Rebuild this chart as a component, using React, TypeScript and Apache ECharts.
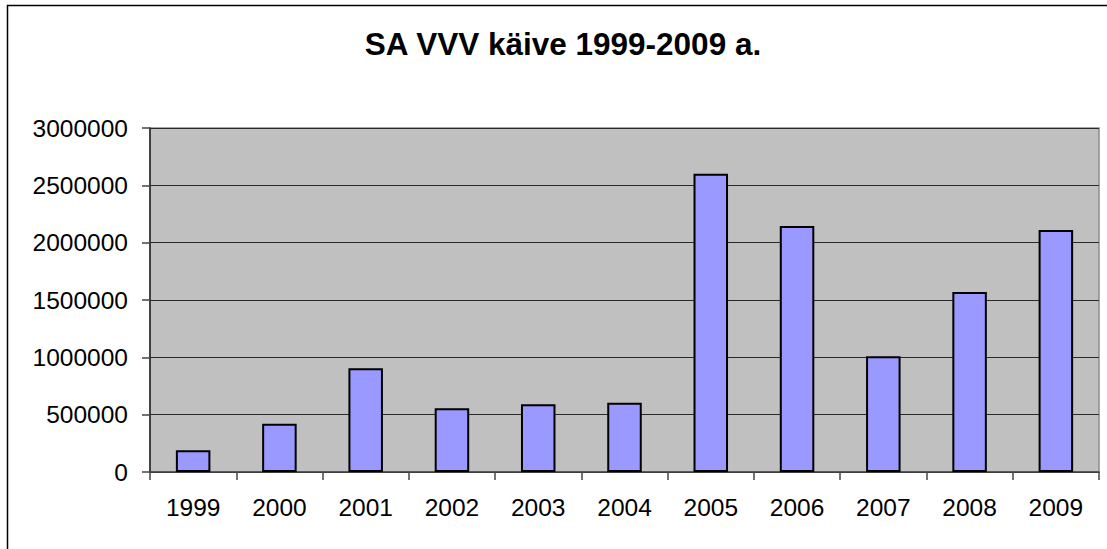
import React, { useEffect, useRef } from "react";
import * as echarts from "echarts";

const titleText = "SA VVV käive 1999-2009 a.";
const years = ["1999", "2000", "2001", "2002", "2003", "2004", "2005", "2006", "2007", "2008", "2009"];
const turnover = [190000, 420000, 905000, 555000, 590000, 605000, 2600000, 2145000, 1010000, 1570000, 2110000];
const yMin = 0;
const yMax = 3000000;
const yStep = 500000;

export default function App() {
  const ref = useRef<HTMLDivElement>(null);
  useEffect(() => {
    if (!ref.current) return;
    const chart = echarts.init(ref.current, undefined, { renderer: "svg" });
    const font = "'Liberation Sans', Arial, sans-serif";
    chart.setOption({
      animation: false,
      backgroundColor: "#ffffff",
      textStyle: { fontFamily: font },
      graphic: [
        {
          type: "rect",
          shape: { x: 7.5, y: 5.5, width: 1300, height: 700 },
          style: { fill: "none", stroke: "#000000", lineWidth: 1.5 },
          silent: true,
          z: 0,
        },
        {
          type: "text",
          x: 563,
          y: 44,
          style: {
            text: titleText,
            fontFamily: font,
            fontSize: 31.5,
            fontWeight: "bold",
            fill: "#000000",
            textAlign: "center",
            textVerticalAlign: "middle",
          },
          z: 10,
        },
      ],
      grid: {
        left: 150,
        right: 8,
        top: 128,
        bottom: 77,
        show: true,
        backgroundColor: "#c0c0c0",
        borderColor: "#8c8c8c",
        borderWidth: 1.5,
      },
      xAxis: {
        type: "category",
        data: years,
        boundaryGap: true,
        axisLine: { show: true, lineStyle: { color: "#444444", width: 1.5 } },
        axisTick: { show: true, length: 8, inside: false, lineStyle: { color: "#444444", width: 1.5 } },
        axisLabel: { color: "#000000", fontSize: 24.5, margin: 23, fontFamily: font },
        splitLine: { show: false },
      },
      yAxis: {
        type: "value",
        min: yMin,
        max: yMax,
        interval: yStep,
        axisLine: { show: true, lineStyle: { color: "#222222", width: 1.5 } },
        axisTick: { show: true, length: 8, lineStyle: { color: "#444444", width: 1.5 } },
        axisLabel: {
          color: "#000000",
          fontSize: 24.5,
          margin: 22,
          fontFamily: font,
          formatter: (v: number) => String(v),
        },
        splitLine: { show: true, lineStyle: { color: "#2a2a2a", width: 1.2 } },
      },
      series: [
        {
          type: "bar",
          data: turnover,
          barWidth: "40%",
          itemStyle: { color: "#9999ff", borderColor: "#000000", borderWidth: 2 },
        },
      ],
    });
    return () => chart.dispose();
  }, []);
  return (
    <div
      ref={ref}
      style={{ position: "fixed", left: 0, top: 0, width: 1107, height: 549, background: "#fff" }}
    />
  );
}
